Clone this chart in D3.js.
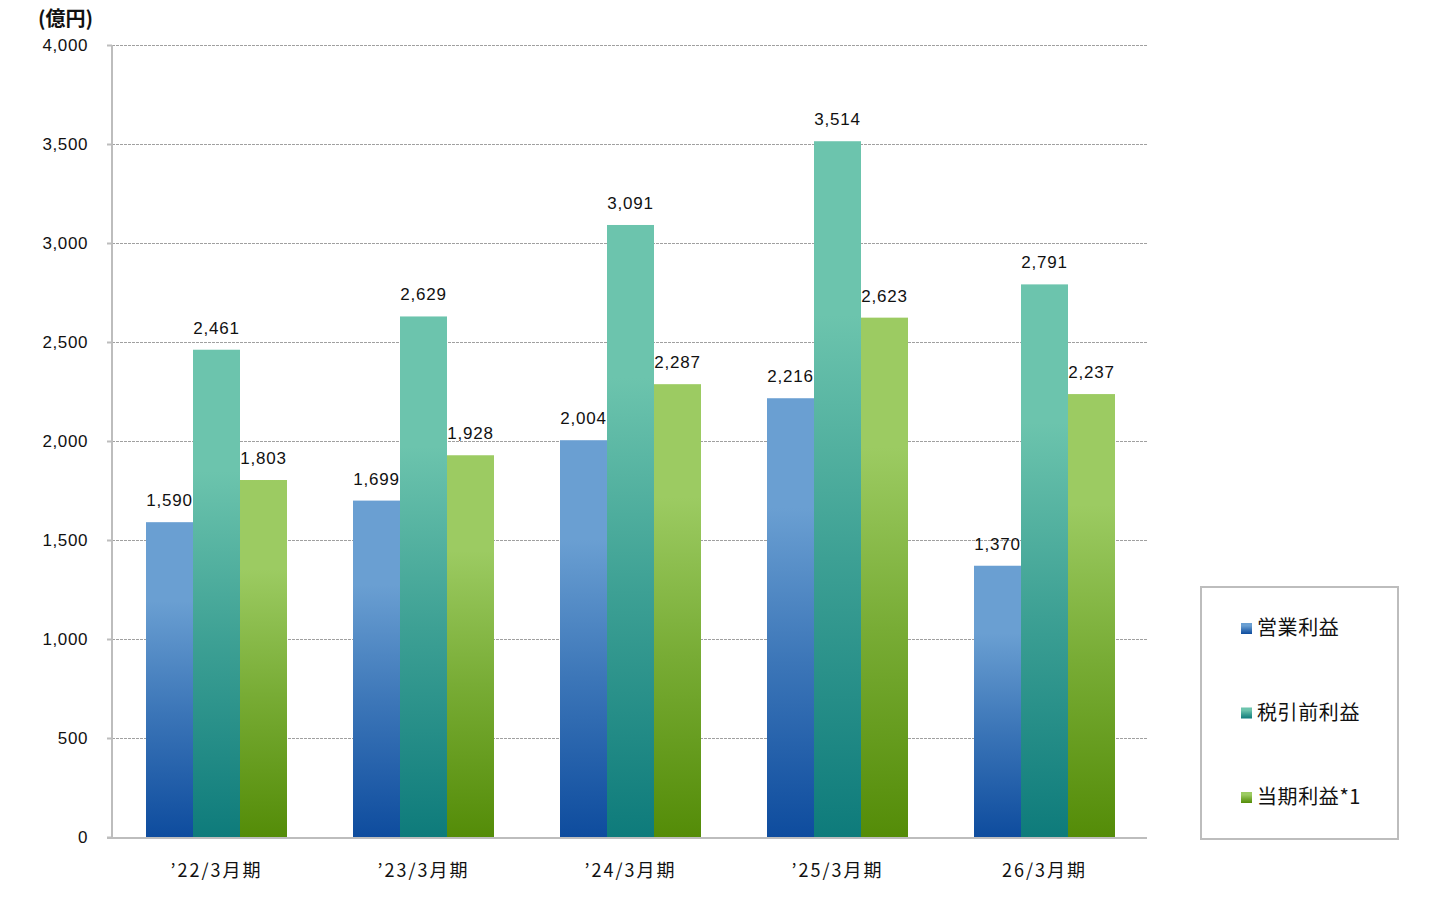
<!DOCTYPE html>
<html><head><meta charset="utf-8">
<script src="https://cdn.jsdelivr.net/npm/d3@7"></script>
<style>
html,body{margin:0;padding:0;background:#fff;}
text{font-family:"Noto Sans CJK JP","Noto Sans",sans-serif;}
</style></head>
<body><svg id="c" width="1437" height="897"></svg>
<script>
const categories = ["’22/3月期", "’23/3月期", "’24/3月期", "’25/3月期", "26/3月期"];
const seriesNames = ["営業利益", "税引前利益", "当期利益*1"];
const operatingProfit = [1590, 1699, 2004, 2216, 1370];
const pretaxProfit = [2461, 2629, 3091, 3514, 2791];
const netProfit = [1803, 1928, 2287, 2623, 2237];
const yTicks = [0, 500, 1000, 1500, 2000, 2500, 3000, 3500, 4000];
const unitLabel = "(億円)";

(function(){
const seriesValues = [operatingProfit, pretaxProfit, netProfit];
const colors = [
  {top: "#6a9fd2", bottom: "#0e4c9e"},
  {top: "#6cc4ad", bottom: "#0e7b7b"},
  {top: "#9ccb62", bottom: "#548c08"}
];
const numFont = "'Liberation Sans', Arial, sans-serif";

const svg = d3.select("#c");
const pL = 112, pR = 1147, pT = 45, pB = 837;

const x = d3.scaleBand().domain(categories).range([pL, pR]).paddingInner(0).paddingOuter(0);
const inner = d3.scaleBand().domain(d3.range(3)).range([0, 141]);
const y = d3.scaleLinear().domain([0, 4000]).range([pB, pT]);

const defs = svg.append("defs");
colors.forEach((c, i) => {
  const g = defs.append("linearGradient").attr("id", "g" + i)
    .attr("x1", 0).attr("y1", 0).attr("x2", 0).attr("y2", 1);
  g.append("stop").attr("offset", "0").attr("stop-color", c.top);
  g.append("stop").attr("offset", "0.25").attr("stop-color", c.top);
  g.append("stop").attr("offset", "0.6").attr("stop-color", d3.interpolateRgb(c.top, c.bottom)(0.5));
  g.append("stop").attr("offset", "1").attr("stop-color", c.bottom);
});

// gridlines
svg.append("g").selectAll("line").data(yTicks.filter(d => d > 0)).join("line")
  .attr("x1", pL).attr("x2", pR)
  .attr("y1", d => y(d) + 0.5).attr("y2", d => y(d) + 0.5)
  .attr("stroke", "#a0a0a0").attr("stroke-width", 1).attr("stroke-dasharray", "3,1");

// y axis
const yAxis = d3.axisLeft(y).tickValues(yTicks).tickSize(5).tickPadding(19)
  .tickFormat(d3.format(","));
const ya = svg.append("g").attr("transform", `translate(${pL},0)`).call(yAxis);
ya.select(".domain").remove();
ya.selectAll(".tick line").attr("stroke", "#bdbdbd").attr("stroke-width", 2);
ya.selectAll(".tick text").attr("font-size", 17).attr("fill", "#111")
  .style("font-family", numFont).attr("letter-spacing", "0.6px").attr("dy", "0.35em");
svg.append("line").attr("x1", pL).attr("x2", pL).attr("y1", pT).attr("y2", pB + 1)
  .attr("stroke", "#bdbdbd").attr("stroke-width", 2);

// bars
const groups = svg.append("g").selectAll("g").data(categories).join("g")
  .attr("transform", d => `translate(${x(d) + (x.bandwidth() - 141) / 2 + 1},0)`);
seriesValues.forEach((vals, si) => {
  groups.append("rect")
    .attr("x", inner(si)).attr("width", inner.bandwidth())
    .attr("y", (d, ci) => y(vals[ci]))
    .attr("height", (d, ci) => pB - y(vals[ci]))
    .attr("fill", `url(#g${si})`);
  groups.append("text")
    .attr("x", inner(si) + inner.bandwidth() / 2)
    .attr("y", (d, ci) => y(vals[ci]) - 22)
    .attr("text-anchor", "middle").attr("dy", "0.35em")
    .attr("font-size", 17).attr("fill", "#111").attr("letter-spacing", "0.8px")
    .style("font-family", numFont)
    .text((d, ci) => d3.format(",")(vals[ci]));
});

// x axis
svg.append("line").attr("x1", pL - 5).attr("x2", pR).attr("y1", pB + 1).attr("y2", pB + 1)
  .attr("stroke", "#bdbdbd").attr("stroke-width", 2);
svg.append("g").selectAll("text").data(categories).join("text")
  .attr("x", d => x(d) + x.bandwidth() / 2 + 1).attr("y", 871)
  .attr("dy", "0.35em").attr("text-anchor", "middle")
  .attr("font-size", 18).attr("letter-spacing", "2px").attr("fill", "#111")
  .text(d => d);

// unit label
svg.append("text").attr("x", 38).attr("y", 19).attr("dy", "0.35em")
  .attr("font-size", 20).attr("font-weight", "bold").attr("fill", "#111")
  .text(unitLabel);

// legend
svg.append("rect").attr("x", 1201).attr("y", 587).attr("width", 197).attr("height", 252)
  .attr("fill", "#fff").attr("stroke", "#bdbdbd").attr("stroke-width", 2);
const ly = d3.scalePoint().domain(seriesNames).range([628, 797]);
const lg = svg.append("g").selectAll("g").data(seriesNames).join("g")
  .attr("transform", d => `translate(1241,${ly(d)})`);
lg.append("rect").attr("x", 0).attr("y", -5).attr("width", 11).attr("height", 11)
  .attr("fill", (d, i) => `url(#g${i})`);
lg.append("text").attr("x", 16).attr("y", 0).attr("dy", "0.35em")
  .attr("font-size", 20).attr("letter-spacing", "0.6px").attr("fill", "#111").text(d => d);
})();
</script></body></html>
